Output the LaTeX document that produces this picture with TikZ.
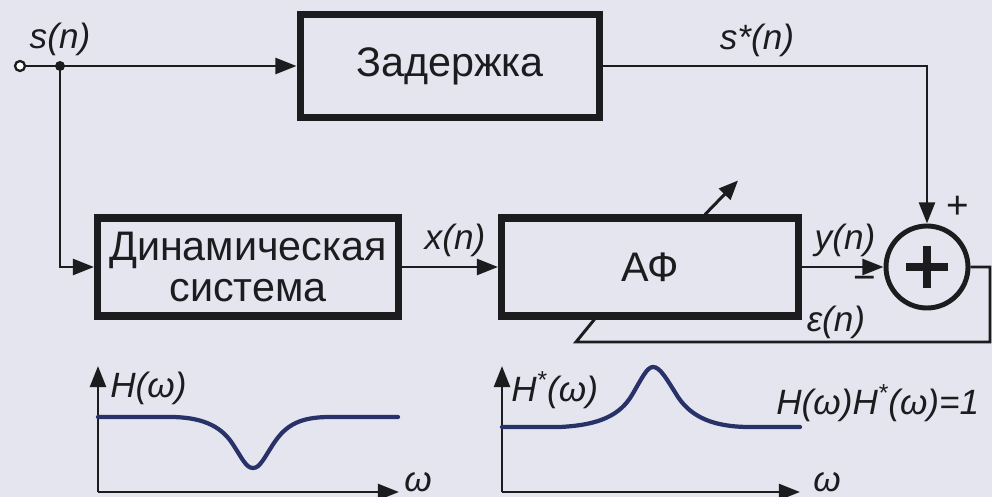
\documentclass[tikz,border=0pt]{standalone}
\usepackage{fontspec}
\setmainfont{Liberation Sans}
\usetikzlibrary{calc}
\usetikzlibrary{arrows.meta}
\definecolor{bgcol}{RGB}{229,229,240}
\definecolor{inkcol}{RGB}{28,28,30}
\definecolor{curvecol}{RGB}{40,50,104}

\begin{document}
\begin{tikzpicture}[
  x=0.02cm, y=-0.02cm,
  every node/.style={font=\fontsize{20}{22}\selectfont\itshape, text=inkcol, inner sep=0pt},
  blockbox/.style={rectangle, draw=inkcol, line width=4pt, fill=bgcol, align=center,
    font=\fontsize{23.5}{23}\selectfont},
  sumnode/.style={circle, draw=inkcol, line width=2.8pt, fill=bgcol, minimum size=1.64cm},
  conn/.style={line width=1.7pt, draw=inkcol, -{Triangle[length=12pt, width=9pt]}},
  wire/.style={line width=1.7pt, draw=inkcol},
  dot/.style={fill=inkcol, circle, minimum size=0.2cm},
  curve/.style={line width=2.4pt, draw=curvecol, line cap=round},
  sign/.style={font=\fontsize{22}{22}\selectfont}
]
\fill[bgcol] (0,0) rectangle (992,497);
\useasboundingbox (0,0) rectangle (992,497);

% ====== BLOCKS ======
\node[blockbox, minimum width=6cm, minimum height=2.06cm] (delay) at (450,66) {Задержка};
\node[blockbox, minimum width=6.02cm, minimum height=1.96cm] (dyn) at (248,267)
    {Динамическая\\система};
\node[blockbox, minimum width=5.94cm, minimum height=1.96cm] (af) at (650,267) {АФ};
\node[sumnode] (sum) at (927,267) {};
\draw[line width=4pt, draw=inkcol] ($(sum.center)+(-21,0)$) -- ($(sum.center)+(21,0)$);
\draw[line width=4pt, draw=inkcol] ($(sum.center)+(0,-21)$) -- ($(sum.center)+(0,21)$);

% ====== INPUT ======
\node[circle, draw=inkcol, line width=1.3pt, fill=white, minimum size=0.2cm] (in) at (20,66) {};
\node[dot] (jn) at (60,66) {};
\node[anchor=south] (sLbl) at (60,56) {s(n)};
\draw[conn] (in) -- (delay.west);
\draw[conn] (jn.center) |- (dyn.west);

% ====== SIGNAL PATHS ======
\draw[conn] (dyn.east) -- (af.west);
\node (xLbl) at (455,240) {x(n)};
\draw[conn] (delay.east) -| (sum.north);
\node (sStarLbl) at (757,40) {s*(n)};
\node[sign] (plusLbl) at (958,207) {+};
\draw[conn] (af.east) -- (sum.west);
\node (yLbl) at (845,240) {y(n)};
\node[sign] (minusLbl) at (865,283) {−};

% ====== ERROR FEEDBACK ======
\coordinate (errA) at (990,267);
\coordinate (errB) at (576,342);
\coordinate (errEnd) at (598,315);
\draw[wire, line join=miter] (sum.east) -- (errA) |- (errB) -- (errEnd);
\node (eLbl) at (836,322) {ε(n)};

% adaptation arrow
\coordinate (adaptA) at ($(af.north)+(55,0)$);
\draw[line width=1.7pt, draw=inkcol, -{Triangle[length=11pt, width=9pt]}]
    (adaptA) -- ++(33,-34);

% ====== FREQUENCY RESPONSES ======
\coordinate (oL) at (98,492);
\coordinate (oR) at (502,492);
\draw[conn] (oL) -- (98,366);
\draw[conn] (oL) -- (399,492);
\draw[conn] (oR) -- (502,366);
\draw[conn] (oR) -- (800,492);
\node[anchor=west] (hLbl) at (110,388) {H(ω)};
\node[anchor=west] (hsLbl) at (511,390) {H\textsuperscript{*}(ω)};
\node[anchor=west] (prodLbl) at (776,403) {H(ω)H\textsuperscript{*}(ω)=1};
\node (wL) at (418,482) {ω};
\node (wR) at (827,482) {ω};

\draw[curve] (98,417) -- (170,417) .. controls (200,417) and (220,425) .. (232,443)
    .. controls (242,458) and (246,468) .. (253,468)
    .. controls (260,468) and (264,458) .. (274,443)
    .. controls (286,425) and (300,417) .. (330,417) -- (398,417);
\draw[curve] (502,427) -- (560,427) .. controls (600,425) and (620,415) .. (632,395)
    .. controls (642,378) and (647,367) .. (653,367)
    .. controls (660,367) and (666,378) .. (678,397)
    .. controls (692,418) and (715,427) .. (750,427) -- (800,427);

\end{tikzpicture}
\end{document}
